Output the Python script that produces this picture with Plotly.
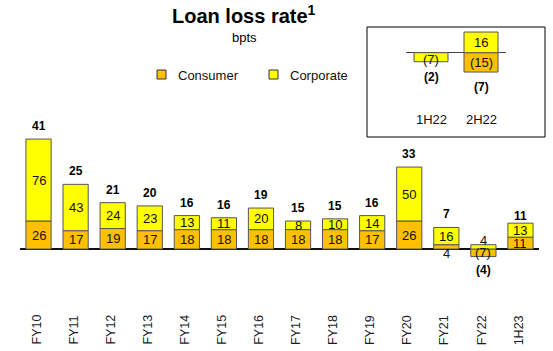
import plotly.graph_objects as go

# ---- data ----
categories = ["FY10", "FY11", "FY12", "FY13", "FY14", "FY15", "FY16",
              "FY17", "FY18", "FY19", "FY20", "FY21", "FY22", "1H23"]
consumer = [26, 17, 19, 17, 18, 18, 18, 18, 18, 17, 26, 4, -7, 11]
corporate = [76, 43, 24, 23, 13, 11, 20, 8, 10, 14, 50, 16, 4, 13]
total = [41, 25, 21, 20, 16, 16, 19, 15, 15, 16, 33, 7, -4, 11]

inset_categories = ["1H22", "2H22"]
inset_consumer = [None, -15]
inset_corporate = [-7, 16]
inset_total = [-2, -7]

C_CONS = "#FFC000"
C_CORP = "#FFFF00"
EDGE = "#555555"
FONT = "Liberation Sans, Arial, sans-serif"

W, H = 553, 351


def fmt(v):
    return f"({abs(v)})" if v < 0 else f"{v}"


def segs(c, p):
    """return (cons_mid, corp_mid, pos_top, neg_bottom) for relative stacking"""
    c = c or 0
    p = p or 0
    pos = 0.0
    neg = 0.0
    if c >= 0:
        cm = c / 2; pos += c
    else:
        cm = c / 2; neg += c
    if p >= 0:
        pm = pos + p / 2; pos += p
    else:
        pm = neg + p / 2; neg += p
    return cm, pm, pos, neg


fig = go.Figure()
fig.add_trace(go.Bar(x=categories, y=consumer, name="Consumer", marker_color=C_CONS,
                     marker_line=dict(color=EDGE, width=1), xaxis="x", yaxis="y",
                     showlegend=False, hoverinfo="skip"))
fig.add_trace(go.Bar(x=categories, y=corporate, name="Corporate", marker_color=C_CORP,
                     marker_line=dict(color=EDGE, width=1), xaxis="x", yaxis="y",
                     showlegend=False, hoverinfo="skip"))
fig.add_trace(go.Bar(x=inset_categories, y=inset_consumer, name="Consumer", marker_color=C_CONS,
                     marker_line=dict(color=EDGE, width=1), xaxis="x2", yaxis="y2",
                     showlegend=False, hoverinfo="skip"))
fig.add_trace(go.Bar(x=inset_categories, y=inset_corporate, name="Corporate", marker_color=C_CORP,
                     marker_line=dict(color=EDGE, width=1), xaxis="x2", yaxis="y2",
                     showlegend=False, hoverinfo="skip"))

ann = []
# special label offsets (pixels) for tiny segments
cons_shift = {"FY21": -7}
corp_shift = {"FY22": 6}
tot_shift = {"1H23": 7}

for cat, c, p, t in zip(categories, consumer, corporate, total):
    cm, pm, top, bot = segs(c, p)
    ann.append(dict(x=cat, y=cm, xref="x", yref="y", text=fmt(c), showarrow=False,
                    font=dict(size=13, color="#111"), yshift=cons_shift.get(cat, 0)))
    ann.append(dict(x=cat, y=pm, xref="x", yref="y", text=fmt(p), showarrow=False,
                    font=dict(size=13, color="#111"), yshift=corp_shift.get(cat, 0)))
    if t >= 0:
        ann.append(dict(x=cat, y=top, xref="x", yref="y", text=f"<b>{fmt(t)}</b>", showarrow=False,
                        font=dict(size=12, color="#000"), yshift=tot_shift.get(cat, 13)))
    else:
        ann.append(dict(x=cat, y=bot, xref="x", yref="y", text=f"<b>{fmt(t)}</b>", showarrow=False,
                        font=dict(size=12, color="#000"), yshift=-13))
    ann.append(dict(x=cat, y=-75, xref="x", yref="y", text=cat, showarrow=False, textangle=-90,
                    xshift=-2, font=dict(size=12.5, color="#1a1a2a")))

for cat, c, p, t in zip(inset_categories, inset_consumer, inset_corporate, inset_total):
    cm, pm, top, bot = segs(c, p)
    if c is not None:
        ann.append(dict(x=cat, y=cm, xref="x2", yref="y2", text=fmt(c), showarrow=False,
                        font=dict(size=13, color="#111")))
    if p is not None:
        ann.append(dict(x=cat, y=pm, xref="x2", yref="y2", text=fmt(p), showarrow=False,
                        font=dict(size=13, color="#111"), yshift=-2 if p < 0 else 0))
    ann.append(dict(x=cat, y=bot, xref="x2", yref="y2", text=f"<b>{fmt(t)}</b>", showarrow=False,
                    font=dict(size=12, color="#000"), yshift=-15))
    ann.append(dict(x=cat, y=-52, xref="x2", yref="y2", text=cat, showarrow=False,
                    font=dict(size=13, color="#111")))

# title, subtitle
ann.append(dict(x=244 / W, y=1 - 14 / H, xref="paper", yref="paper", text="<b>Loan loss rate<sup>1</sup></b>",
                xanchor="center", yanchor="middle", showarrow=False, font=dict(size=20, color="#000")))
ann.append(dict(x=245 / W, y=1 - 38 / H, xref="paper", yref="paper", text="bpts",
                xanchor="center", yanchor="middle", showarrow=False, font=dict(size=13, color="#000")))

# manual legend
shapes = []
legend_items = [("Consumer", C_CONS, 157), ("Corporate", C_CORP, 269)]
for name, col, x0 in legend_items:
    shapes.append(dict(type="rect", xref="paper", yref="paper",
                       x0=x0 / W, x1=(x0 + 9) / W, y0=1 - 79 / H, y1=1 - 70 / H,
                       fillcolor=col, line=dict(color="#333", width=1)))
    ann.append(dict(x=(x0 + 19) / W, y=1 - 75.5 / H, xref="paper", yref="paper", text=name,
                    xanchor="left", yanchor="middle", showarrow=False, font=dict(size=13, color="#111")))

# inset box
shapes.append(dict(type="rect", xref="paper", yref="paper",
                   x0=367 / W, x1=545 / W, y0=1 - 137 / H, y1=1 - 27 / H,
                   line=dict(color="#000", width=1)))

fig.update_layout(
    width=W, height=H, autosize=False,
    margin=dict(l=0, r=0, t=0, b=0),
    paper_bgcolor="white", plot_bgcolor="rgba(0,0,0,0)",
    barmode="relative", bargap=0.32,
    font=dict(family=FONT),
    annotations=ann, shapes=shapes,
    xaxis=dict(domain=[20 / W, 539 / W], range=[-0.5, 13.5], showticklabels=False,
               showgrid=False, zeroline=False, ticks="", showline=False, anchor="y"),
    yaxis=dict(domain=[0, 1], range=[-94.6, 231], showticklabels=False, showgrid=False,
               zeroline=True, zerolinecolor="#111", zerolinewidth=1.5, ticks="", anchor="x"),
    xaxis2=dict(domain=[406 / W, 506 / W], range=[-0.5, 1.5], showticklabels=False,
                showgrid=False, zeroline=False, ticks="", anchor="y2"),
    yaxis2=dict(domain=[1 - 137 / H, 1 - 27 / H], range=[-65.3, 19.9], showticklabels=False,
                showgrid=False, zeroline=True, zerolinecolor="#444", zerolinewidth=1.3,
                ticks="", anchor="x2"),
    showlegend=False,
)

fig.write_html("out.html")
